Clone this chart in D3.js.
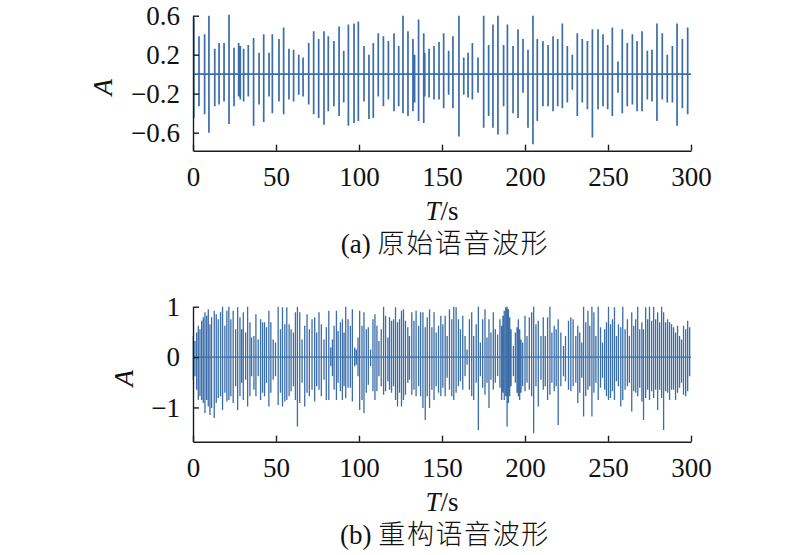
<!DOCTYPE html>
<html><head><meta charset="utf-8">
<script src="https://cdn.jsdelivr.net/npm/d3@7"></script>
<style>body{margin:0;background:#fff}svg{display:block}
.serif{font-family:"Liberation Serif","Times New Roman",Times,"DejaVu Serif",serif}
</style>
</head><body>
<svg id="c" width="800" height="555"></svg>
<script>
const xTicks = [0, 50, 100, 150, 200, 250, 300];
const topYTicks = [0.6, 0.2, -0.2, -0.6];
const botYTicks = [1, 0, -1];

const topT = [0.5,3.6,7.0,9.6,13.1,15.7,18.7,21.7,24.7,27.5,28.5,30.5,33.3,36.5,39.8,42.6,45.8,47.8,51.8,54.6,57.8,60.6,63.7,66.3,69.7,72.7,75.7,78.9,81.5,84.9,88.0,90.8,93.6,97.0,99.6,103.0,106.0,108.6,111.6,114.7,117.7,121.1,123.9,126.5,129.5,132.5,133.5,135.9,139.0,139.6,142.2,145.2,148.2,151.0,154.0,156.6,160.2,163.1,165.7,168.3,171.7,175.1,178.1,180.7,183.7,187.1,189.4,192.8,195.8,198.8,201.8,204.8,207.4,210.8,213.9,216.9,219.7,222.5,225.5,228.5,231.5,234.5,237.6,240.6,244.0,247.0,249.8,252.6,256.0,258.6,261.6,264.7,267.5,270.5,273.7,276.5,279.5,282.7,285.7,288.8,291.6,294.8,298.0];
const topHi = [.58,.39,.41,.60,.26,.32,.32,.61,.27,.32,.29,.26,.30,.37,.22,.41,.22,.41,.36,.48,.26,.25,.20,.17,.32,.44,.36,.44,.39,.34,.49,.24,.51,.52,.54,.29,.20,.32,.42,.39,.34,.42,.29,.60,.44,.36,.20,.56,.42,.22,.26,.29,.33,.42,.24,.39,.60,.17,.22,.32,.17,.60,.30,.51,.60,.30,.51,.29,.46,.36,.25,.60,.36,.34,.30,.39,.36,.52,.29,.20,.42,.36,.34,.46,.46,.41,.30,.48,.13,.46,.32,.41,.34,.44,.24,.25,.52,.42,.20,.29,.52,.36,.48];
const topLo = [-.45,-.33,-.41,-.60,-.33,-.31,-.28,-.51,-.33,-.23,-.26,-.28,-.23,-.53,-.31,-.49,-.23,-.40,-.28,-.41,-.26,-.28,-.21,-.23,-.31,-.41,-.45,-.52,-.38,-.33,-.43,-.29,-.53,-.50,-.48,-.28,-.46,-.45,-.23,-.33,-.26,-.38,-.33,-.40,-.43,-.38,-.29,-.48,-.50,-.23,-.24,-.26,-.26,-.35,-.21,-.35,-.64,-.21,-.24,-.26,-.19,-.55,-.43,-.55,-.62,-.33,-.62,-.40,-.45,-.19,-.55,-.72,-.48,-.33,-.33,-.38,-.33,-.35,-.29,-.16,-.43,-.29,-.36,-.65,-.36,-.33,-.36,-.43,-.19,-.40,-.33,-.31,-.38,-.38,-.26,-.28,-.48,-.26,-.29,-.29,-.53,-.35,-.41];

const botT = [0.2,1.2,2.2,3.2,4.2,5.2,6.2,7.2,8.2,9.2,10.2,11.2,12.8,14.0,15.2,16.6,17.8,19.2,20.4,21.6,22.8,24.2,25.7,26.9,28.3,29.3,30.3,31.7,32.9,34.3,35.3,36.7,37.9,39.3,40.7,41.9,43.1,44.3,45.7,46.9,48.3,49.7,51.3,52.7,53.9,55.3,56.5,57.9,59.1,60.5,61.7,62.9,64.3,65.7,67.3,68.7,70.1,71.7,73.3,74.5,
75.9,77.3,78.9,80.3,81.8,83.0,84.0,85.0,86.4,87.4,88.8,90.0,91.0,92.0,93.4,94.8,96.0,97.4,98.4,99.4,100.4,101.8,103.0,104.4,105.6,107.0,108.4,109.6,110.8,112.0,113.4,114.8,116.0,117.4,118.4,119.6,120.8,122.0,123.2,124.4,125.6,126.8,128.0,129.4,130.4,131.8,133.1,134.4,135.9,137.1,138.5,139.9,141.1,142.5,143.9,145.2,146.5,147.9,149.3,
150.5,151.9,153.1,154.5,155.9,157.1,158.5,159.9,161.1,162.5,163.9,165.1,166.5,167.9,169.1,170.6,171.9,173.1,174.5,175.9,177.1,178.3,179.5,180.9,182.1,183.5,184.9,185.9,186.7,187.5,188.4,189.2,190.0,190.8,191.6,193.0,194.2,195.2,196.0,196.8,197.6,198.6,200.0,201.2,202.6,204.0,205.2,206.6,208.0,209.6,211.0,212.2,213.6,215.0,216.2,217.6,218.8,220.0,221.6,223.2,224.4,
226.2,227.6,229.0,230.6,231.8,233.0,234.2,235.3,236.6,237.9,239.0,240.3,241.5,242.7,244.1,245.5,246.7,248.0,249.1,250.3,251.5,252.7,253.9,255.1,256.3,257.7,258.9,260.3,261.7,262.9,264.3,265.5,266.7,267.9,269.1,270.4,271.4,272.7,273.9,275.0,276.3,277.5,278.7,279.9,281.1,282.3,283.5,284.7,285.9,287.1,288.3,289.5,290.7,291.9,293.1,294.3,295.5,296.8,298.0,299.2];
const botHi = [.42,.32,.49,.62,.55,.72,.79,.89,.82,.95,.65,.79,.92,.85,.75,.89,1.0,.62,.92,1.0,.75,.92,.55,.99,.79,.55,.89,.49,1.0,.69,.39,.42,.85,.35,.75,.69,.69,.59,.92,.69,.35,.29,1.0,.55,.99,.65,.99,.65,.55,.49,.89,1.0,.89,.35,.62,.85,.55,.75,.79,.49,
.89,.65,.35,.59,.92,.19,.35,.62,.92,.52,.69,.75,.49,1.0,.75,.62,.95,.19,.15,.39,.92,.62,.89,.55,.59,.15,.75,.85,.62,.32,.55,1.0,.82,.39,.79,.72,.75,.99,.69,.75,.92,.95,.72,.59,.42,.89,.72,.92,.62,.89,.89,.59,.79,.95,.59,.89,.49,.62,.82,
.65,.82,.42,.95,.75,1.0,.99,.75,.55,.82,.42,.15,.75,.89,.42,.65,1.0,.29,.75,.95,.39,.75,.49,.89,.55,.45,.75,.62,.82,.92,.99,1.0,.95,.79,.55,.22,.49,.59,.75,.55,.35,.29,.82,.42,.79,.89,1.0,.65,.72,.42,.79,.42,.79,1.0,.49,.62,.55,.75,.49,.22,.42,
.72,.79,.75,.42,.62,.49,.29,1.0,.69,.92,.62,1.0,.89,.42,1.0,.59,.29,.55,.69,1.0,.65,.75,.99,.42,.65,.59,1.0,.55,.75,.42,.89,.62,.75,1.0,.55,.69,.55,.99,.75,1.0,.72,1.0,.75,.89,.69,1.0,.89,.69,.75,.69,.65,.59,.49,.62,.42,.35,.62,.55,.72,.59];
const botLo = [-.45,-.38,-.65,-.85,-.78,-.85,-.91,-1.11,-.85,-.98,-1.15,-1.01,-1.21,-.91,-.81,-.78,-1.05,-.71,-.88,-.85,-.78,-.91,-.58,-1.05,-.78,-.51,-.85,-.45,-.98,-.78,-.38,-.65,-.78,-.38,-.85,-.71,-.78,-.51,-.98,-.71,-.45,-.38,-.95,-.71,-.98,-.88,-.85,-.78,-.68,-.58,-.85,-1.38,-.91,-.51,-.98,-.71,-.78,-.65,-.88,-.58,
-.65,-.78,-.45,-.85,-.85,-.18,-.38,-.65,-.85,-.51,-.68,-.85,-.58,-.81,-.61,-.61,-.88,-.18,-.15,-.38,-1.05,-.85,-1.11,-.71,-.55,-.18,-.68,-.85,-.68,-.38,-.58,-.75,-.68,-.48,-.65,-.71,-.58,-.85,-.98,-.71,-.98,-.85,-.75,-.51,-.45,-.75,-.65,-.78,-.58,-.78,-1.01,-1.25,-.78,-1.01,-.65,-.85,-.58,-.71,-.78,
-.61,-.78,-.41,-.65,-.78,-.85,-.71,-.58,-.48,-.65,-.38,-.15,-.65,-.78,-.85,-.51,-1.45,-.38,-.61,-.75,-.51,-1.01,-.45,-.65,-.51,-.38,-.61,-.85,-.71,-.85,-.78,-1.38,-.91,-.78,-.58,-.38,-.51,-.71,-.78,-.85,-.71,-.58,-.68,-.51,-.65,-.78,-1.51,-.58,-.98,-.45,-.65,-.58,-.85,-.75,-.51,-.68,-.58,-1.35,-.58,-.38,-.48,
-.65,-.68,-.58,-.51,-.91,-.71,-.41,-1.18,-.78,-.65,-.58,-1.18,-.71,-.51,-.85,-.61,-.41,-.65,-.78,-.85,-.81,-.68,-.85,-.48,-.58,-.98,-.85,-.65,-.58,-.51,-1.08,-.68,-.71,-.78,-.61,-.88,-1.25,-.81,-.65,-.85,-.68,-.81,-.65,-1.05,-.65,-.81,-1.45,-.68,-.71,-.85,-.65,-.65,-.85,-.71,-.61,-.51,-.75,-.78,-.68,-.38];

const svg = d3.select("#c");
const CJK = "'Noto Sans CJK SC',sans-serif";
const LINE = "#3b6da8";
const AX = "#1c1c1c";

function wave(T, H, L) {
  const pts = [[0, 0]];
  T.forEach((t, i) => { pts.push([t, 0], [t, H[i]], [t, L[i]], [t, 0]); });
  pts.push([300, 0]);
  return pts;
}

function panel(o) {
  const x = d3.scaleLinear().domain([0, 300]).range([193, 691]);
  const y = d3.scaleLinear().domain(o.yDomain).range([o.bottom, o.top]);
  const g = svg.append("g");

  g.append("path")
    .datum(wave(o.T, o.H, o.L))
    .attr("fill", "none")
    .attr("stroke", LINE)
    .attr("stroke-width", o.lw)
    .attr("d", d3.line().x(d => x(d[0])).y(d => y(d[1])));

  const ya = g.append("g").attr("transform", `translate(${x(0)},0)`)
    .call(d3.axisLeft(y).tickValues(o.yTicks).tickFormat(o.fmt).tickSizeInner(-6).tickSizeOuter(0).tickPadding(13));
  const xa = g.append("g").attr("transform", `translate(0,${o.bottom})`)
    .call(d3.axisBottom(x).tickValues(xTicks).tickFormat(d3.format("d")).tickSizeInner(-6).tickSizeOuter(0).tickPadding(16));
  [ya, xa].forEach(a => {
    a.attr("font-family", null).attr("font-size", null);
    a.select(".domain").attr("stroke", AX).attr("stroke-width", 1.4);
    a.selectAll(".tick line").attr("stroke", AX).attr("stroke-width", 1.4);
    a.selectAll(".tick text").attr("class", "serif").attr("fill", "#111").style("font-size", "27px");
  });

  g.append("text").attr("class", "serif")
    .attr("transform", `translate(${o.yLabelX},${(o.top + o.bottom) / 2 + 4}) rotate(-90)`)
    .attr("text-anchor", "middle").attr("dominant-baseline", "central")
    .style("font-style", "italic").style("font-size", "27px")
    .attr("fill", "#111").text("A");

  const xl = g.append("text").attr("class", "serif")
    .attr("x", 442).attr("y", o.bottom + 69).attr("text-anchor", "middle")
    .style("font-size", "27px").attr("fill", "#111");
  xl.append("tspan").style("font-style", "italic").text("T");
  xl.append("tspan").text("/s");

  const cp = g.append("text").attr("class", "serif")
    .attr("x", 445).attr("y", o.bottom + 102).attr("text-anchor", "middle")
    .style("font-size", "27px").attr("fill", "#111");
  cp.append("tspan").text(o.capA + " ");
  cp.append("tspan").style("font-family", CJK).style("font-size", "27px").style("font-weight", 300)
    .attr("letter-spacing", "1.6").text(o.capB);
}

panel({ T: topT, H: topHi, L: topLo, yDomain: [-0.785, 0.6], top: 15.7, bottom: 150.7, lw: 1.7,
  yTicks: topYTicks, fmt: d3.format(".1f"), yLabelX: 103, capA: "(a)", capB: "原始语音波形" });
panel({ T: botT, H: botHi, L: botLo, yDomain: [-1.68, 1], top: 306.7, bottom: 441.7, lw: 1.3,
  yTicks: botYTicks, fmt: d3.format("d"), yLabelX: 124, capA: "(b)", capB: "重构语音波形" });
</script>
</body></html>
